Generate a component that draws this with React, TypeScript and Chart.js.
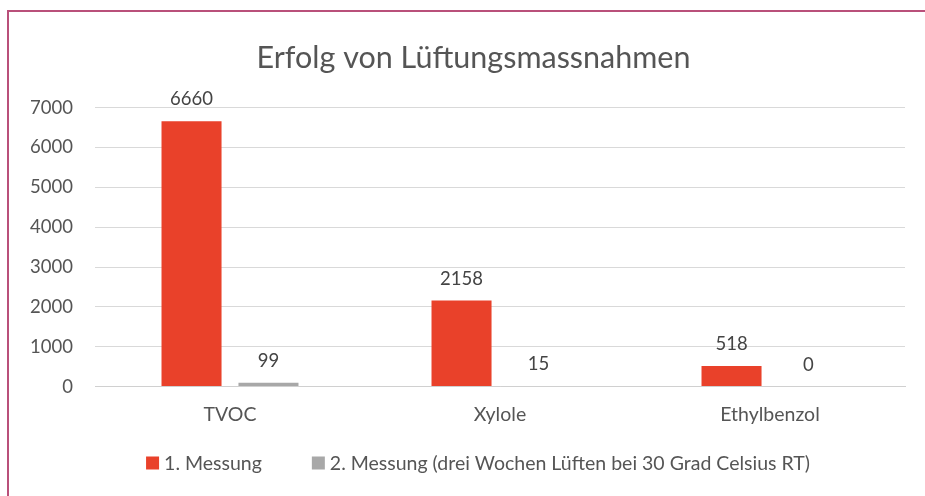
import React, { useEffect, useRef } from "react";
import { Chart, registerables } from "chart.js";

Chart.register(...registerables);

const categories = ["TVOC", "Xylole", "Ethylbenzol"];
const series1Label = "1. Messung";
const series1 = [6660, 2158, 518];
const series2Label = "2. Messung (drei Wochen Lüften bei 30 Grad Celsius RT)";
const series2 = [99, 15, 0];
const titleText = "Erfolg von Lüftungsmassnahmen";
const yTicks = [0, 1000, 2000, 3000, 4000, 5000, 6000, 7000];

const FONT = "Lato, 'Open Sans', sans-serif";
const TEXT = "#555555";

const valueLabels = {
  id: "valueLabels",
  afterDatasetsDraw(chart: any) {
    const ctx = chart.ctx;
    ctx.save();
    ctx.font = `18.5px ${FONT}`;
    ctx.fillStyle = "#444444";
    ctx.textAlign = "center";
    ctx.textBaseline = "middle";
    chart.data.datasets.forEach((ds: any, di: number) => {
      const meta = chart.getDatasetMeta(di);
      meta.data.forEach((bar: any, i: number) => {
        ctx.fillText(String(ds.data[i]), bar.x, bar.y - 22);
      });
    });
    ctx.restore();
  },
};

const unclipY = {
  id: "unclipY",
  afterLayout(chart: any) {
    const y = chart.scales.y;
    if (y) y.left = 0;
  },
};

const customLegend = {
  id: "customLegend",
  afterDraw(chart: any) {
    const ctx = chart.ctx;
    ctx.save();
    ctx.font = `19.5px ${FONT}`;
    ctx.textBaseline = "middle";
    ctx.textAlign = "left";
    const box = 13;
    const gapBoxText = 5;
    const gapItems = 50;
    const items = chart.data.datasets.map((ds: any) => ({
      text: ds.label,
      color: ds.backgroundColor,
      w: box + gapBoxText + ctx.measureText(ds.label).width,
    }));
    const total = items.reduce((s: number, it: any) => s + it.w, 0) + gapItems * (items.length - 1);
    let x = 478 - total / 2;
    const yc = 463;
    items.forEach((it: any) => {
      ctx.fillStyle = it.color;
      ctx.fillRect(x, yc - box / 2, box, box);
      ctx.fillStyle = TEXT;
      ctx.fillText(it.text, x + box + gapBoxText, yc + 1);
      x += it.w + gapItems;
    });
    ctx.restore();
  },
};

export default function App() {
  const ref = useRef<HTMLCanvasElement | null>(null);
  useEffect(() => {
    if (!ref.current) return;
    const chart = new Chart(ref.current, {
      type: "bar",
      data: {
        labels: categories,
        datasets: [
          {
            label: series1Label,
            data: series1,
            backgroundColor: "#e9412a",
            categoryPercentage: 0.57,
            barPercentage: 0.78,
          },
          {
            label: series2Label,
            data: series2,
            backgroundColor: "#a8a8a8",
            categoryPercentage: 0.57,
            barPercentage: 0.78,
          },
        ],
      },
      options: {
        animation: false,
        responsive: false,
        maintainAspectRatio: false,
        layout: { padding: { left: 42, right: 20, top: 28, bottom: 54 } },
        plugins: {
          title: {
            display: true,
            text: titleText,
            color: TEXT,
            font: { family: FONT, size: 30.5, weight: "normal" },
            padding: { top: 12, bottom: 31 },
          },
          legend: { display: false },
          tooltip: { enabled: false },
        },
        scales: {
          x: {
            grid: { display: false, drawTicks: false },
            border: { display: true, color: "#d0d0d0", width: 1 },
            ticks: { color: TEXT, font: { family: FONT, size: 19.5 }, padding: 16 },
          },
          y: {
            min: 0,
            max: 7000,
            afterFit(scale: any) {
              scale.width = 53;
            },
            afterBuildTicks(scale: any) {
              scale.ticks = yTicks.map((v) => ({ value: v }));
            },
            grid: { color: "#d9d9d9", drawTicks: false },
            border: { display: false },
            ticks: {
              color: TEXT,
              font: { family: FONT, size: 18.5 },
              padding: 22,
              callback: (v: any) => String(v),
            },
          },
        },
      },
      plugins: [valueLabels, customLegend, unclipY],
    });
    return () => chart.destroy();
  }, []);
  return (
    <div style={{ position: "absolute", left: 0, top: 0, width: 925, height: 496, background: "#fff", overflow: "hidden" }}>
      <div
        style={{
          position: "absolute",
          left: 7,
          top: 10,
          width: 940,
          height: 500,
          border: "2px solid #b9507a",
          boxSizing: "border-box",
        }}
      />
      <canvas ref={ref} width={925} height={496} style={{ position: "absolute", left: 0, top: 0 }} />
    </div>
  );
}
